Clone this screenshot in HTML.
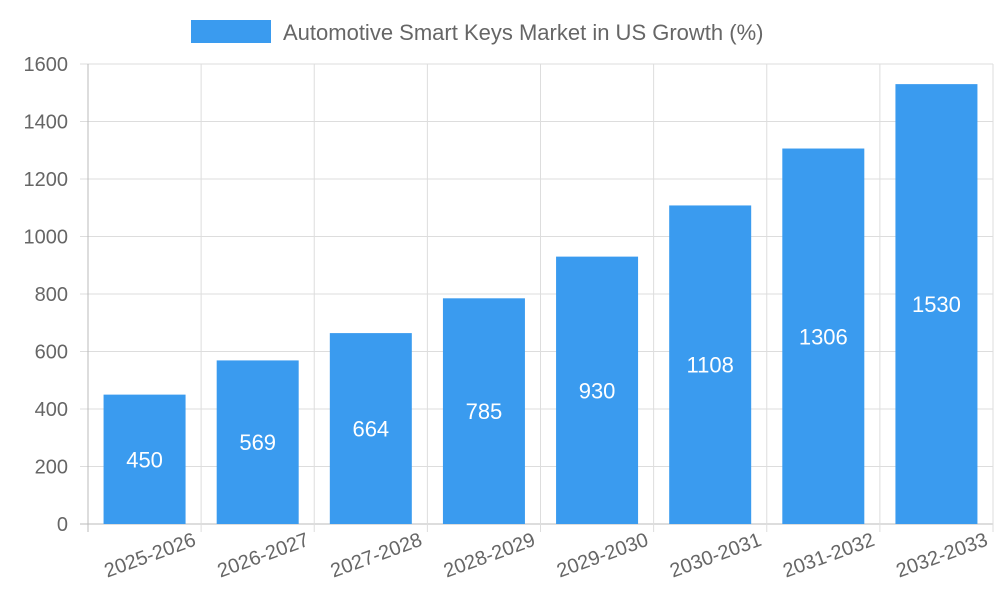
<!DOCTYPE html>
<html><head><meta charset="utf-8"><style>
body{margin:0;background:#fff;}
svg text{font-family:"Liberation Sans",sans-serif;}
</style></head><body>
<svg id="chart" width="1000" height="600" xmlns="http://www.w3.org/2000/svg">
<g id="legend">
<rect x="191" y="20" width="80" height="23" fill="#3a9bef"/>
<text x="283" y="40" font-size="22" fill="#666">Automotive Smart Keys Market in US Growth (%)</text>
</g>
<g id="grid"></g><g id="bars"></g><g id="labels"></g>
</svg>
<script>
const categories=["2025-2026","2026-2027","2027-2028","2028-2029","2029-2030","2030-2031","2031-2032","2032-2033"];
const values=[450,569,664,785,930,1108,1306,1530];
const yTicks=[0,200,400,600,800,1000,1200,1400,1600];
const NS="http://www.w3.org/2000/svg";
const L=88,R=993,T=64,B=524,yMax=1600;
const y=v=>B-(v/yMax)*(B-T);
const step=(R-L)/categories.length;
const x=i=>L+i*step;
function mk(tag,attrs,parent,txt){const e=document.createElementNS(NS,tag);for(const k in attrs)e.setAttribute(k,attrs[k]);if(txt!==undefined)e.textContent=txt;parent.appendChild(e);return e;}
const grid=document.getElementById('grid'),bars=document.getElementById('bars'),labels=document.getElementById('labels');
yTicks.forEach(t=>{
 const l=mk('line',{x1:80,x2:R,y1:y(t),y2:y(t),stroke:t===0?'#bbb':'#ddd','stroke-width':1},grid);
 
 
 const tx=mk('text',{x:68,y:y(t)+7,'font-size':20,fill:'#666','text-anchor':'end'},labels,String(t));
 
 
});
for(let i=0;i<=categories.length;i++){
 const l=mk('line',{x1:x(i),x2:x(i),y1:T,y2:B+8,stroke:i===0?'#bbb':'#ddd','stroke-width':1},grid);
 
 
}
const bw=82;
categories.forEach((c,i)=>{
 const cx=x(i)+step/2;
 const r=mk('rect',{x:cx-bw/2,y:y(values[i]),width:bw,height:B-y(values[i]),fill:'#3a9bef'},bars);
 
 
 const v=mk('text',{x:cx,y:(y(values[i])+B)/2+8,'font-size':22,fill:'#fff','text-anchor':'middle'},labels,String(values[i]));
 
 
 const ex=x(i+1)-4, ey=545;
 const t=mk('text',{x:ex,y:ey,'font-size':20,fill:'#666','text-anchor':'end',transform:`rotate(-20 ${ex} ${ey})`},labels,c);
 
 
});
</script>
</body></html>
